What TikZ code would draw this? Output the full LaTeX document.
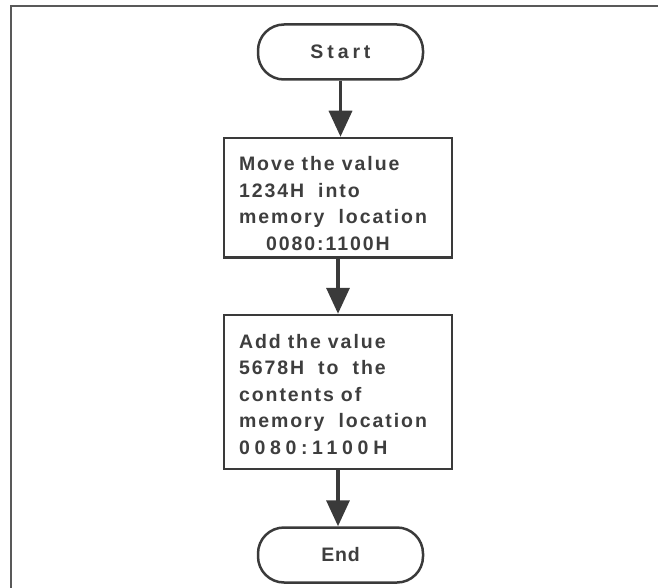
\documentclass[tikz,border=0pt]{standalone}
\usepackage{fontspec}
\setmainfont{Liberation Sans}[LetterSpace = 10]
\usepackage{tikz}
\usetikzlibrary{arrows.meta, positioning}

\definecolor{ink}{HTML}{3E3E3E}
\definecolor{edge}{HTML}{3A3A3A}
\newcommand{\wsp}{\hspace{7pt}}

\tikzset{
	term/.style = {draw = edge, line width = 2.5pt, rounded corners = 26pt, minimum width = 165pt, minimum height = 55pt, text = ink, font = \fontsize{19.5}{22}\selectfont\bfseries},
	proc/.style = {draw = edge, line width = 2.5pt, minimum width = 228pt, text width = 198pt, inner xsep = 15pt, inner ysep = 0pt, align = left, text = ink, font = \fontsize{19.5}{26.5}\selectfont\bfseries},
	flow/.style = {draw = edge, line width = 3.5pt, -{Triangle[length = 26pt, width = 23pt]}}
}

\begin{document}
\begin{tikzpicture}[x = 1pt, y = -1pt]
				\useasboundingbox (0, 0) rectangle (658, 588);
				\draw[line width = 2pt, black!65] (658, 6.5) -- (10.5, 6.5) -- (10.5, 588);
				\node[term] (S) at (340.5, 52) {\addfontfeature{LetterSpace = 20}Start};
				\node[proc, below = 56pt of S.south, anchor = north, xshift = -2.5pt] (M) {\rule{0pt}{33pt}Move\wsp the\wsp value\\1234H\wsp\wsp into\\memory\wsp\wsp location\\\hspace*{27pt}0080:1100H\rule[-7pt]{0pt}{7pt}};
				\node[proc, below = 55pt of M.south, anchor = north] (A) {\rule{0pt}{33pt}Add\wsp the\wsp value\\5678H\wsp\wsp to\wsp\wsp the\\contents\wsp of\\memory\wsp\wsp location\\{\addfontfeature{LetterSpace = 24}0080:1100H}\rule[-15pt]{0pt}{15pt}};
				\node[term, below = 56pt of A.south, anchor = north, xshift = 2.5pt] (E) {\addfontfeature{LetterSpace = 4}End};
				\draw[flow] (S.south) -- (S.south |- M.north);
				\draw[flow] (M.south) -- (A.north);
				\draw[flow] (A.south) -- (A.south |- E.north);
			\end{tikzpicture}
\end{document}
